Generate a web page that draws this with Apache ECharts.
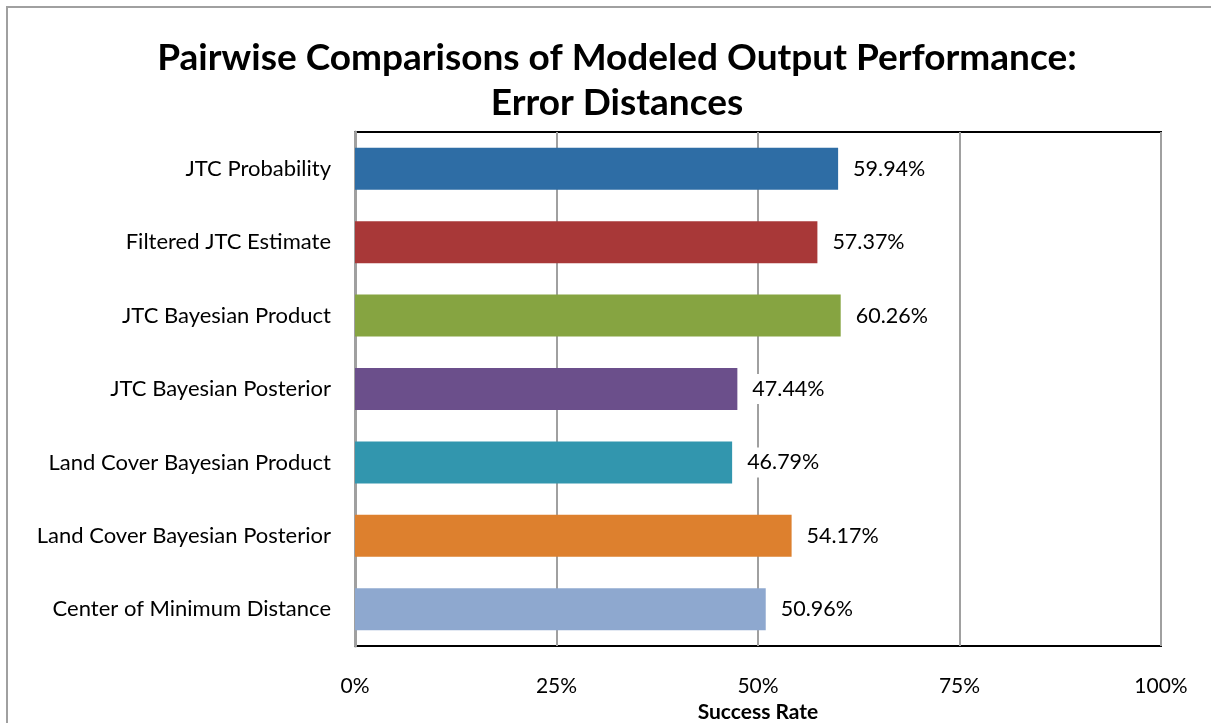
<!DOCTYPE html>
<html>
<head>
<meta charset="utf-8">
<script src="https://cdn.jsdelivr.net/npm/echarts@6/dist/echarts.min.js"></script>
<style>
    html, body { margin: 0; padding: 0; background: #fff; }
    #chart { width: 1211px; height: 723px; }
</style>
</head>
<body>
<div id="chart"></div>
<script>
    const categories = [
        'JTC Probability',
        'Filtered JTC Estimate',
        'JTC Bayesian Product',
        'JTC Bayesian Posterior',
        'Land Cover Bayesian Product',
        'Land Cover Bayesian Posterior',
        'Center of Minimum Distance'
    ];
    const successRates = [59.94, 57.37, 60.26, 47.44, 46.79, 54.17, 50.96];
    const barColors = ['#2e6da5', '#a83838', '#86a441', '#6b4f8b', '#3296ae', '#dd802e', '#8ea8cf'];
    const xTicks = [0, 25, 50, 75, 100];

    const font = 'Lato';

    const option = {
        animation: false,
        title: {
            text: 'Pairwise Comparisons of Modeled Output Performance:\nError Distances',
            left: 612,
            top: 31,
            textAlign: 'center',
            textStyle: {
                fontFamily: font,
                fontSize: 37,
                fontWeight: 'bold',
                color: '#000',
                lineHeight: 45
            }
        },
        graphic: [{
            type: 'rect',
            shape: {x: 7, y: 7, width: 1230, height: 740},
            style: {fill: 'none', stroke: '#a0a0a0', lineWidth: 2}
        }],
        grid: {
            left: 355,
            right: 50,
            top: 132,
            bottom: 77,
            show: true,
            borderColor: '#000',
            borderWidth: 2,
            outerBoundsMode: 'none',
            containLabel: false
        },
        xAxis: {
            type: 'value',
            min: xTicks[0],
            max: xTicks[xTicks.length - 1],
            interval: 25,
            name: 'Success Rate',
            nameLocation: 'middle',
            nameGap: 54,
            nameTextStyle: {fontFamily: font, fontSize: 21, fontWeight: 'bold', color: '#000'},
            axisLine: {show: false},
            axisTick: {show: false},
            axisLabel: {
                margin: 30,
                fontFamily: font,
                fontSize: 21,
                color: '#000',
                formatter: '{value}%'
            },
            splitLine: {lineStyle: {color: '#a0a0a0', width: 2}}
        },
        yAxis: {
            type: 'category',
            data: categories,
            inverse: true,
            axisLine: {show: true, lineStyle: {color: '#a0a0a0', width: 3}},
            axisTick: {show: false},
            axisLabel: {
                margin: 24,
                fontFamily: font,
                fontSize: 22,
                color: '#000'
            }
        },
        series: [{
            type: 'bar',
            data: successRates.map((v, i) => ({value: v, itemStyle: {color: barColors[i]}})),
            barWidth: 42,
            label: {
                show: true,
                position: 'right',
                distance: 9,
                formatter: p => p.value.toFixed(2) + '%',
                fontFamily: font,
                fontSize: 21.5,
                color: '#000',
                backgroundColor: '#fff',
                padding: [4, 6]
            }
        }]
    };

    const chart = echarts.init(document.getElementById('chart'));
    chart.setOption(option);
</script>
</body>
</html>
